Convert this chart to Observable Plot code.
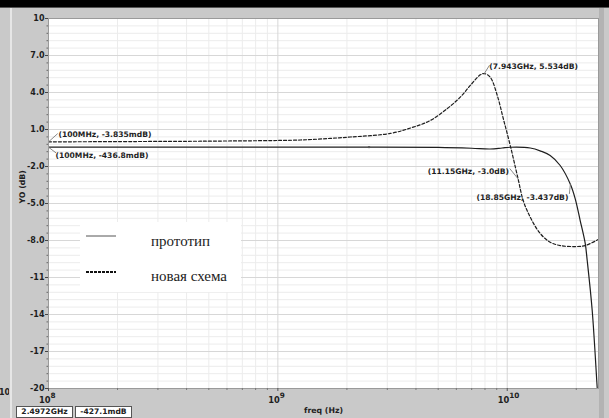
<!DOCTYPE html>
<html>
<head>
<meta charset="utf-8">
<script src="https://cdn.jsdelivr.net/npm/d3@7"></script>
<script src="https://cdn.jsdelivr.net/npm/@observablehq/plot@0.6"></script>
<style>
  html, body { margin: 0; padding: 0; background: #c9c9c9; overflow: hidden; }
  #wrap { position: relative; width: 609px; height: 418px; overflow: hidden; }
  .box { position: absolute; z-index: 5; top: 406px; height: 10px; background: #fff; border: 1px solid #555;
         font: bold 7.6px "DejaVu Sans"; color: #222; text-align: center; line-height: 10px; }
</style>
</head>
<body>
<div id="wrap"></div>
<script>
// ---- data ----
const protoFreqGHz = [0.1, 0.5, 1, 2.4972, 5, 7, 8.43, 9.5, 10.31, 12.6, 14, 15.39, 17.02, 18.85, 19.78, 20.8, 21.88, 22.32, 23.47, 24.67, 24.9];
const protoDb      = [-0.4368, -0.43, -0.43, -0.4271, -0.45, -0.52, -0.58, -0.5, -0.44, -0.5, -0.75, -1.11, -1.92, -3.437, -4.6, -6.38, -8.24, -9.62, -13.68, -19.9, -21];

const newFreqGHz = [0.1, 0.278, 0.534, 1.254, 1.69, 2.07, 3.09, 3.89, 4.62, 5.48, 6.24, 6.90, 7.63, 7.943, 8.43, 9.05, 9.61, 10.31, 11.15, 11.74, 12.6, 13.92, 15.39, 17.02, 19.78, 21.9, 24.9];
const newDb      = [-0.003835, 0.03, 0.06, 0.15, 0.28, 0.39, 0.68, 1.19, 1.73, 2.70, 3.62, 4.57, 5.43, 5.534, 5.24, 3.76, 1.89, -0.30, -3.0, -4.76, -6.11, -7.43, -8.14, -8.41, -8.49, -8.41, -7.92];

const seriesNames = ["прототип", "новая схема"];

const yTicks      = [10, 7, 4, 1, -2, -5, -8, -11, -14, -17, -20];
const yTickLabels = ["10", "7.0", "4.0", "1.0", "-2.0", "-5.0", "-8.0", "-11", "-14", "-17", "-20"];
const xTicks      = [1e8, 1e9, 1e10];
const xTickBase   = ["10", "10", "10"];
const xTickExp    = ["8", "9", "10"];

const annFreqGHz = [0.1, 0.1, 7.943, 11.15, 18.85];
const annDb      = [-0.003835, -0.4368, 5.534, -3.0, -3.437];
const annLabels  = ["(100MHz, -3.835mdB)", "(100MHz, -436.8mdB)", "(7.943GHz, 5.534dB)", "(11.15GHz, -3.0dB)", "(18.85GHz, -3.437dB)"];

const cursorFreqGHz = 2.4972;
const cursorDb = -0.4271;
const cursorLabels = ["2.4972GHz", "-427.1mdB"];

const xLabel = "freq (Hz)";
const yLabel = "YO (dB)";

// ---- tables ----
const proto = protoFreqGHz.map((f, i) => ({f: f * 1e9, db: protoDb[i]}));
const neu = newFreqGHz.map((f, i) => ({f: f * 1e9, db: newDb[i]}));
const ann = annFreqGHz.map((f, i) => ({f: f * 1e9, db: annDb[i], label: annLabels[i]}));

const yMinor = d3.range(-20, 10.001, 0.6);
const xMinor = [];
for (const e of [8, 9, 10]) for (let k = 2; k <= 9; k++) { const v = k * 10 ** e; if (v < 2.5e10) xMinor.push(v); }
const yLabelOf = new Map(yTicks.map((v, i) => [v, yTickLabels[i]]));

const noHead = { draw(ctx, l) { ctx.moveTo(0, 0); ctx.lineTo(0, -l); } };
const ink = "#1e1e1e";
const small = 7.6;

function annMark(i, opts) {
  const a = [ann[i]];
  return [
    Plot.vector(a, {x: "f", y: "db", anchor: "start", length: opts.len, rotate: opts.rot, shape: noHead, stroke: "#777", strokeWidth: 0.8}),
    Plot.text(a, {x: "f", y: "db", text: "label", dx: opts.dx, dy: opts.dy, textAnchor: opts.anchor, lineAnchor: "bottom", fill: ink, fontWeight: "bold", fontSize: small})
  ];
}

const chart = Plot.plot({
  width: 609,
  height: 418,
  marginLeft: 48,
  marginRight: 11,
  marginTop: 18,
  marginBottom: 30,
  style: {background: "#c9c9c9", fontFamily: "DejaVu Sans", fontSize: "8px", fontWeight: "bold", color: ink, overflow: "visible"},
  x: {type: "log", domain: [1e8, 2.5e10], axis: null, label: null},
  y: {domain: [-20, 10], axis: null, label: null},
  marks: [
    Plot.frame({fill: "white"}),
    Plot.gridY(yMinor, {stroke: "#ececec", strokeOpacity: 1}),
    Plot.gridX(xMinor, {stroke: "#ececec", strokeOpacity: 1}),
    Plot.gridY(yTicks, {stroke: "#d7d7d7", strokeOpacity: 1}),
    Plot.gridX(xTicks, {stroke: "#d7d7d7", strokeOpacity: 1}),
    Plot.line(neu, {x: "f", y: "db", stroke: ink, strokeWidth: 1.2, strokeDasharray: "3,2", curve: "catmull-rom", clip: true}),
    Plot.line(proto, {x: "f", y: "db", stroke: ink, strokeWidth: 1.2, curve: "catmull-rom", clip: true}),
    Plot.dot([{f: cursorFreqGHz * 1e9, db: cursorDb}], {x: "f", y: "db", r: 1.2, fill: "#555"}),
    ...annMark(0, {len: 12, rot: 48, dx: 10, dy: -4.5, anchor: "start"}),
    ...annMark(1, {len: 9, rot: 127, dx: 7, dy: 10.5, anchor: "start"}),
    ...annMark(2, {len: 9.4, rot: 32, dx: 5, dy: -5, anchor: "start"}),
    ...annMark(3, {len: 12.8, rot: -39, dx: -9, dy: -5, anchor: "end"}),
    ...annMark(4, {len: 9.4, rot: 186, dx: -2, dy: 15.5, anchor: "end"}),
    Plot.frame({stroke: "#9a9a9a"}),
    Plot.axisY(yMinor, {tickSize: 1.5, text: null, label: null, stroke: "#666"}),
    Plot.axisY(yTicks, {tickSize: 3, tickPadding: 1, label: null, tickFormat: d => yLabelOf.get(d), stroke: "#444", fill: ink, fontWeight: "bold", fontSize: 8}),
    Plot.axisX(xMinor, {tickSize: 2, text: null, label: null, stroke: "#777"}),
    Plot.axisX(xTicks, {tickSize: 3, text: null, label: null, stroke: "#555"}),
    Plot.text(xTicks, {x: d => d, frameAnchor: "bottom", dy: 14, dx: 2, text: (d, i) => xTickBase[i], textAnchor: "end", lineAnchor: "bottom", fill: ink, fontWeight: "bold", fontSize: 8.3}),
    Plot.text(xTicks, {x: d => d, frameAnchor: "bottom", dy: 9, dx: 2, text: (d, i) => xTickExp[i], textAnchor: "start", lineAnchor: "bottom", fill: ink, fontWeight: "bold", fontSize: 7.3}),
    Plot.text([xLabel], {frameAnchor: "bottom", dy: 24, lineAnchor: "bottom", fill: ink, fontWeight: "bold", fontSize: 7.8}),
    Plot.text([yLabel], {frameAnchor: "left", dx: -26, rotate: -90, fill: ink, fontWeight: "bold", fontSize: 7.8})
  ]
});

// window chrome drawn into the SVG itself
const ns = "http://www.w3.org/2000/svg";
function rect(x, y, w, h, fill) {
  const r = document.createElementNS(ns, "rect");
  r.setAttribute("x", x); r.setAttribute("y", y); r.setAttribute("width", w); r.setAttribute("height", h);
  r.setAttribute("fill", fill);
  chart.appendChild(r);
}
rect(0, 0, 609, 7, "#000000");
rect(0, 7, 609, 1, "#555555");
rect(10, 8, 2, 410, "#e6e6e6");
rect(599, 8, 5, 410, "#b3b3b3");

const wrap = document.getElementById("wrap");
chart.style.position = "absolute";
chart.style.left = "0px";
chart.style.top = "0px";
wrap.appendChild(chart);

function panel(css, html) {
  const d = document.createElement("div");
  d.style.cssText = "position:absolute;z-index:5;" + css;
  if (html) d.innerHTML = html;
  wrap.appendChild(d);
  return d;
}
panel("left:0px;top:388px;width:9px;height:12px;overflow:hidden;font:bold 8px 'DejaVu Sans';color:#222;white-space:nowrap;", "<span style='position:relative;left:-1px;'>10</span>");

// cursor readout boxes
[[16, cursorLabels[0]], [75, cursorLabels[1]]].forEach(([left, txt]) => {
  const b = document.createElement("div");
  b.className = "box"; b.style.left = left + "px"; b.style.width = "55px"; b.textContent = txt;
  wrap.appendChild(b);
});

// legend
const leg = panel("left:80px;top:222px;width:161px;height:70px;background:#ffffff;");
const ls = document.createElementNS(ns, "svg");
ls.setAttribute("width", 161); ls.setAttribute("height", 70);
const legStyles = [{stroke: "#555", w: 1, dash: null, y: 14, ty: 24}, {stroke: "#111", w: 2, dash: "3,1", y: 50, ty: 59}];
seriesNames.forEach((name, i) => {
  const s = legStyles[i];
  const ln = document.createElementNS(ns, "line");
  ln.setAttribute("x1", 6); ln.setAttribute("x2", 36); ln.setAttribute("y1", s.y); ln.setAttribute("y2", s.y);
  ln.setAttribute("stroke", s.stroke); ln.setAttribute("stroke-width", s.w);
  if (s.dash) ln.setAttribute("stroke-dasharray", s.dash);
  ls.appendChild(ln);
  const t = document.createElementNS(ns, "text");
  t.setAttribute("x", 71); t.setAttribute("y", s.ty);
  t.setAttribute("font-family", "Liberation Serif"); t.setAttribute("font-size", "15"); t.setAttribute("fill", "#222");
  t.textContent = name;
  ls.appendChild(t);
});
leg.appendChild(ls);
</script>
</body>
</html>
